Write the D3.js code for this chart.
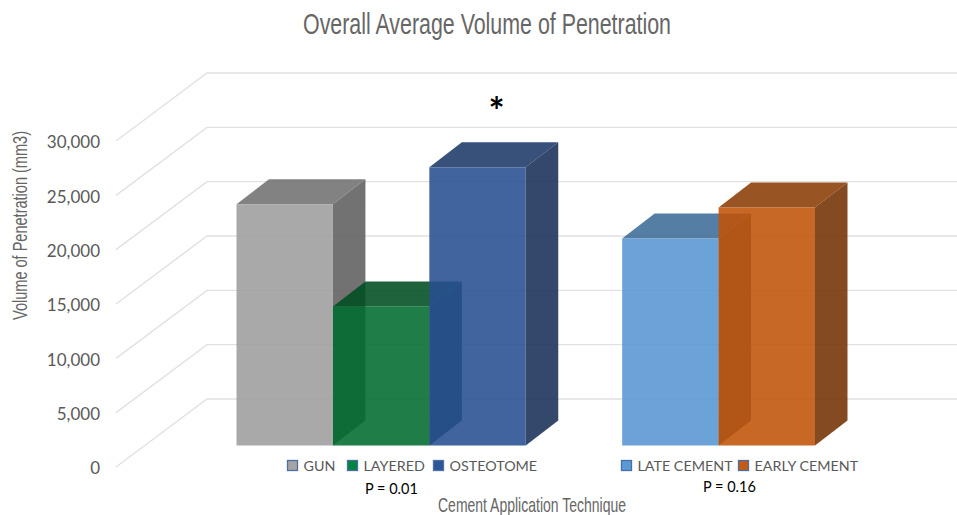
<!DOCTYPE html>
<html>
<head>
<meta charset="utf-8">
<script src="https://cdnjs.cloudflare.com/ajax/libs/d3/7.8.5/d3.min.js"></script>
<style>
    html, body { margin: 0; padding: 0; background: #fff; }
    text { font-family: Lato, "Open Sans", sans-serif; }
    .narrow { font-family: "Liberation Sans Narrow", "Liberation Sans", sans-serif; fill: #666; }
</style>
</head>
<body>
<div id="chart"></div>
<script>
const categories = ["GUN", "LAYERED", "OSTEOTOME", "", "LATE CEMENT", "EARLY CEMENT"]
const values = [22200, 12800, 25600, null, 19050, 21900]
const colors = ["#9d9d9d", "#006b2f", "#274f91", null, "#5696d4", "#c05307"]
const legendColors = ["#a5a5a5", "#00843f", "#2a5597", null, "#5b9bd5", "#c55a11"]
const yTicks = [0, 5000, 10000, 15000, 20000, 25000, 30000]
const pLabels = ["P = 0.01", "P = 0.16"]

const width = 957
const height = 515

// front wall ticks, the floor of the box runs back to the wall at top right
const margin = { left: 116, right: 0, top: 141, bottom: 48 }
const wall = { dx: 91, dy: 68 }
const depth = { dx: 32.5, dy: 25 }
const barBase = 445.5

const svg = d3.select("#chart")
    .append("svg")
    .attr("width", width)
    .attr("height", height)
    .style("display", "block")

const x = d3.scaleBand()
    .domain(categories)
    .range([236.5, 815])
    .padding(0)

const y = d3.scaleLinear()
    .domain([0, 30000])
    .range([height - margin.bottom, margin.top])

/* GRID LINES */
const grid = svg.append("g")
grid.selectAll("path")
    .data(yTicks)
    .enter()
    .append("path")
    .attr("d", d => `M${margin.left},${y(d)}L${margin.left + wall.dx},${y(d) - wall.dy}L${width},${y(d) - wall.dy}`)
    .attr("fill", "none")
    .attr("stroke", "#e1e1e1")
    .attr("stroke-width", 1.4)

/* Y AXIS */
const y_axis = svg.append("g")
    .attr("transform", `translate(${margin.left - 16}, 1.5)`)
    .call(d3.axisLeft(y).tickValues(yTicks).tickFormat(d3.format(",")).tickSize(0).tickPadding(0))
y_axis.select(".domain").remove()
y_axis.selectAll("text")
    .style("font-family", "Lato, sans-serif")
    .style("font-size", "17px")
    .attr("fill", "#595959")

/* BARS */
const bars = categories
    .map((name, i) => ({ name, value: values[i], color: colors[i] }))
    .filter(d => d.value !== null)

function shade(color, k) {
    const c = d3.rgb(color)
    return d3.rgb(c.r * k, c.g * k, c.b * k).formatHex()
}

const bar = svg.selectAll(".bar")
    .data(bars)
    .enter()
    .append("g")
    .attr("class", "bar")

function barTop(d) { return barBase - (y(0) - y(d.value)) }

bar.append("polygon")
    .attr("points", d => {
        const x0 = x(d.name) + x.bandwidth()
        return [
            [x0, barBase], [x0 + depth.dx, barBase - depth.dy],
            [x0 + depth.dx, barTop(d) - depth.dy], [x0, barTop(d)]
        ].join(" ")
    })
    .attr("fill", d => shade(d.color, 0.6))
    .attr("fill-opacity", 0.88)

bar.append("polygon")
    .attr("points", d => {
        const x0 = x(d.name)
        const x1 = x0 + x.bandwidth()
        return [
            [x0, barTop(d)], [x1, barTop(d)],
            [x1 + depth.dx, barTop(d) - depth.dy], [x0 + depth.dx, barTop(d) - depth.dy]
        ].join(" ")
    })
    .attr("fill", d => shade(d.color, 0.72))
    .attr("fill-opacity", 0.88)

bar.append("rect")
    .attr("x", d => x(d.name))
    .attr("y", d => barTop(d))
    .attr("width", x.bandwidth())
    .attr("height", d => barBase - barTop(d))
    .attr("fill", d => d.color)
    .attr("fill-opacity", 0.88)

/* LEGEND */
const legendX = [287, 347, 433, null, 621, 738]
const legend = svg.selectAll(".legend")
    .data(categories.map((name, i) => ({ name, x: legendX[i], color: legendColors[i] })).filter(d => d.name))
    .enter()
    .append("g")
    .attr("class", "legend")
    .attr("transform", d => `translate(${d.x}, 460)`)

legend.append("rect")
    .attr("x", 0.5)
    .attr("y", 0.5)
    .attr("width", 10)
    .attr("height", 10)
    .attr("fill", d => d.color)
    .attr("stroke", "#4a6ea8")
    .attr("stroke-width", 1.3)

legend.append("text")
    .attr("x", 16.5)
    .attr("y", 10.5)
    .attr("font-size", 14.3)
    .attr("fill", "#595959")
    .text(d => d.name)

/* TITLES */
svg.append("text")
    .attr("class", "narrow")
    .attr("x", 303)
    .attr("y", 34)
    .attr("font-size", 30)
    .attr("textLength", 368)
    .attr("lengthAdjust", "spacingAndGlyphs")
    .text("Overall Average Volume of Penetration")

svg.append("text")
    .attr("class", "narrow")
    .attr("transform", "translate(27, 320) rotate(-90)")
    .attr("font-size", 21)
    .attr("textLength", 189)
    .attr("lengthAdjust", "spacingAndGlyphs")
    .text("Volume of Penetration (mm3)")

svg.append("text")
    .attr("class", "narrow")
    .attr("x", 438)
    .attr("y", 512)
    .attr("font-size", 21)
    .attr("textLength", 188)
    .attr("lengthAdjust", "spacingAndGlyphs")
    .text("Cement Application Technique")

/* ANNOTATIONS */
svg.append("text")
    .attr("x", 365)
    .attr("y", 494)
    .attr("font-size", 14.5)
    .attr("fill", "#000")
    .text(pLabels[0])

svg.append("text")
    .attr("x", 703)
    .attr("y", 492)
    .attr("font-size", 14.5)
    .attr("fill", "#000")
    .text(pLabels[1])

svg.append("text")
    .attr("x", 496.5)
    .attr("y", 125)
    .attr("text-anchor", "middle")
    .attr("font-size", 38)
    .attr("font-weight", "bold")
    .attr("fill", "#000")
    .text("*")
</script>
</body>
</html>
